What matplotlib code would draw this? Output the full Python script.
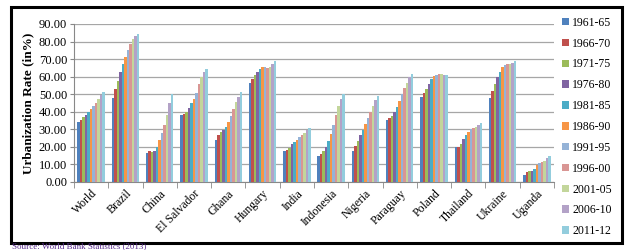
"""Urbanization rate by country, grouped bars per period."""

import matplotlib.pyplot as plt
import numpy as np
from matplotlib.patches import Rectangle

countries = ["World", "Brazil", "China", "El Salvador", "Ghana", "Hungary", "India",
             "Indonesia", "Nigeria", "Paraguay", "Poland", "Thailand", "Ukraine", "Uganda"]
periods = ["1961-65", "1966-70", "1971-75", "1976-80", "1981-85", "1986-90",
           "1991-95", "1996-00", "2001-05", "2006-10", "2011-12"]

world = [33.9, 35.6, 36.8, 38.1, 39.6, 41.3, 43.2, 45.1, 47.2, 49.5, 51.4]
brazil = [47.8, 52.8, 57.5, 62.5, 67.0, 71.2, 75.2, 78.7, 81.5, 83.4, 84.4]
china = [16.6, 17.5, 17.0, 17.5, 20.2, 23.8, 27.8, 32.6, 38.1, 44.8, 49.9]
el_salvador = [38.1, 38.7, 39.8, 42.3, 44.8, 47.4, 50.7, 55.6, 59.8, 62.5, 64.4]
ghana = [24.0, 26.7, 28.6, 29.9, 31.2, 33.9, 37.5, 41.5, 45.3, 48.6, 51.0]
hungary = [56.4, 58.7, 61.0, 62.9, 64.4, 65.3, 65.3, 64.8, 65.3, 67.0, 69.0]
india = [17.7, 18.5, 19.6, 21.5, 22.9, 24.2, 25.5, 26.5, 27.8, 29.9, 30.9]
indonesia = [14.8, 15.8, 17.5, 19.8, 23.2, 27.4, 32.4, 37.9, 43.2, 47.4, 49.9]
nigeria = [17.5, 20.6, 23.4, 26.5, 29.5, 33.0, 36.4, 39.8, 43.4, 46.7, 49.0]
paraguay = [35.4, 36.4, 37.5, 39.8, 42.7, 46.1, 49.9, 53.3, 56.2, 59.8, 61.3]
poland = [48.6, 50.5, 53.1, 56.0, 58.5, 60.2, 61.1, 61.3, 61.3, 61.1, 60.8]
thailand = [19.8, 19.8, 21.7, 24.6, 27.0, 28.4, 30.1, 30.5, 31.2, 32.6, 33.5]
ukraine = [48.0, 52.0, 56.0, 59.8, 62.7, 65.3, 66.7, 67.0, 67.2, 68.0, 68.8]
uganda = [4.2, 5.5, 6.5, 6.5, 7.6, 9.7, 11.0, 11.6, 12.2, 13.5, 15.0]

colors = ["#4F81BD", "#C0504D", "#9BBB59", "#8064A2", "#4BACC6", "#F79646",
          "#95B3D7", "#D99694", "#C3D69B", "#B3A2C7", "#93CDDD"]

SERIF = "Liberation Serif"

values = np.array([world, brazil, china, el_salvador, ghana, hungary, india,
                   indonesia, nigeria, paraguay, poland, thailand, ukraine, uganda])

fig = plt.figure(figsize=(6.28, 2.5), dpi=100)
ax = fig.add_axes([74 / 628, 68 / 250, 480 / 628, 158 / 250])

x = np.arange(len(countries))
group_width = 0.8
bar_w = group_width / len(periods)
for j, (period, color) in enumerate(zip(periods, colors)):
    offs = -group_width / 2 + bar_w * (j + 0.5)
    ax.bar(x + offs, values[:, j], width=bar_w, color=color, label=period, zorder=3)

ax.set_xlim(-0.5, len(countries) - 0.5)
ax.set_ylim(0, 90)
ax.set_yticks(np.arange(0, 91, 10))
ax.set_yticklabels([f"{v:.2f}" for v in np.arange(0, 91, 10)],
                   fontfamily=SERIF, fontsize=9)
ax.yaxis.grid(True, color="#a6a6a6", linewidth=0.9, zorder=0)
ax.tick_params(axis="y", length=3, color="#888888", pad=2)

ax.set_xticks(x)
ax.set_xticklabels(countries, rotation=45, ha="right", rotation_mode="anchor",
                   fontfamily=SERIF, fontsize=8.5)
ax.tick_params(axis="x", length=0, pad=4)
ax.set_xticks(np.arange(-0.5, len(countries)), minor=True)
ax.tick_params(axis="x", which="minor", length=4, color="#888888")

for side in ["top", "right"]:
    ax.spines[side].set_visible(False)
for side in ["left", "bottom"]:
    ax.spines[side].set_color("#888888")

ax.set_ylabel("Urbanization Rate (in%)", fontfamily=SERIF, fontsize=9.5,
              fontweight="bold", labelpad=3)

handles, labels = ax.get_legend_handles_labels()
leg = fig.legend(handles, labels, loc="upper left", bbox_to_anchor=(557 / 628, 1 - 12 / 250),
                 frameon=False, prop={"family": SERIF, "size": 8.5},
                 handlelength=0.6, handleheight=0.6, handletextpad=0.3,
                 labelspacing=0.75, borderaxespad=0)

# outer frame of the figure as in the source document
fig.patches.append(Rectangle((11 / 628, 7 / 250), 611 / 628, 236 / 250,
                             transform=fig.transFigure, fill=False,
                             edgecolor="black", linewidth=2.2))
fig.text(12 / 628, 0, "Source: World Bank Statistics (2013)",
         fontfamily=SERIF, fontsize=6.5, color="#5b2d8e", va="bottom")

fig.savefig("out.png", dpi=100)
